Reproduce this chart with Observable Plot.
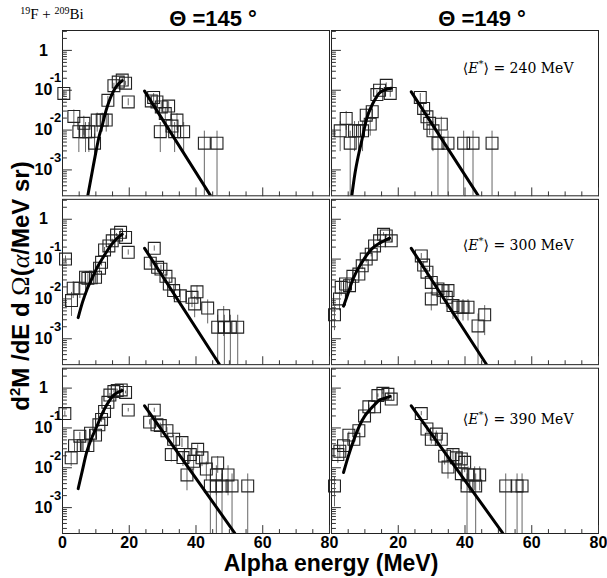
<!DOCTYPE html>
<html><head><meta charset="utf-8">
<script src="https://cdn.jsdelivr.net/npm/d3@7"></script>
<script src="https://cdn.jsdelivr.net/npm/@observablehq/plot@0.6"></script>
<style>body{margin:0;background:#fff;} svg{display:block}</style>
</head><body><div id="chart"></div>
<script>
// ---- categories / axes ----
const angles = ["145", "149"];
const excitations = ["240", "300", "390"];
const xDomain = [0, 80];
const yDomain = [0.000224, 3.16];
const xMajorTicks = [0, 20, 40, 60, 80];
const xMinorTicks = [5, 10, 15, 25, 30, 35, 45, 50, 55, 65, 70, 75];
const xTickLabelsLeft = [0, 20, 40, 60, 80];
const xTickLabelsRight = [20, 40, 60, 80];
const yMajorTicks = [1, 0.1, 0.01, 0.001];
const yTickBase = ["1", "10", "10", "10"];
const yTickExp = ["", "-1", "-2", "-3"];

// ---- measured points: [alpha energy MeV, d2M/dE dΩ, relative error] ----
const pts_145_240 = [
  [0.4,0.083,0.2],[3.4,0.022,0.45],[4.9,0.0091,0.7],[6.4,0.0148,0.5],[6.9,0.0091,0.7],[7.9,0.0091,0.7],
  [9.6,0.0047,0.7],[10.4,0.0178,0.5],[11.9,0.0178,0.5],[13.1,0.0178,0.5],[13.6,0.056,0.25],[15.4,0.13,0.15],
  [16.7,0.16,0.12],[17.9,0.18,0.12],[18.9,0.15,0.12],[19.7,0.051,0.2],
  [26.6,0.054,0.25],[27.3,0.066,0.25],[28.3,0.051,0.3],[29.3,0.0091,0.7],[29.6,0.038,0.3],[30.8,0.026,0.35],
  [31.8,0.040,0.3],[32.8,0.0126,0.5],[33.6,0.0091,0.7],[34.3,0.0178,0.45],[36.3,0.0091,0.7],
  [42.5,0.0047,1],[46.3,0.0047,1]
];
const pts_149_240 = [
  [2.6,0.0096,0.7],[4.4,0.0196,0.5],[5.6,0.0047,1],[6.9,0.0096,0.7],[8.1,0.0096,0.7],[9.3,0.0096,0.7],
  [10.4,0.0237,0.45],[11.6,0.0141,0.5],[12.2,0.029,0.4],[13.6,0.078,0.25],[14.4,0.10,0.2],[16.4,0.133,0.15],
  [17.6,0.083,0.2],
  [26.6,0.066,0.25],[27.6,0.035,0.35],[28.6,0.0215,0.4],[29.4,0.0148,0.5],[30.4,0.0096,0.7],[31.9,0.0047,1],
  [32.9,0.0141,0.5],[34.9,0.0047,1],[39.6,0.0047,1],[42.4,0.0047,1],[48.1,0.0047,1]
];
const pts_145_300 = [
  [0.9,0.10,0.2],[2.7,0.0091,0.6],[3.2,0.0186,0.45],[5.2,0.0186,0.45],[6.9,0.035,0.3],[7.6,0.033,0.3],
  [8.6,0.034,0.3],[9.9,0.035,0.3],[11.1,0.059,0.25],[11.7,0.083,0.2],[12.6,0.17,0.15],[13.9,0.214,0.12],
  [14.9,0.288,0.1],[16.2,0.40,0.1],[17.4,0.47,0.1],[18.9,0.35,0.1],[19.7,0.148,0.15],
  [26.3,0.079,0.2],[27.5,0.186,0.15],[28.5,0.062,0.25],[29.5,0.056,0.25],[31.0,0.037,0.3],[32.0,0.0237,0.35],
  [33.3,0.0162,0.4],[35.3,0.012,0.45],[38.8,0.011,0.45],[39.6,0.0075,0.55],[40.3,0.0151,0.4],[43.5,0.0059,0.6],
  [48.3,0.0038,0.7],[46.5,0.00195,1],[48.5,0.00195,1],[50.3,0.00195,1],[52.5,0.00195,1]
];
const pts_149_300 = [
  [0.9,0.004,0.6],[2.4,0.010,0.5],[2.9,0.0196,0.4],[4.2,0.0237,0.35],[5.4,0.0215,0.35],[6.4,0.037,0.3],
  [8.2,0.042,0.25],[9.2,0.068,0.2],[10.4,0.10,0.2],[11.9,0.133,0.15],[12.9,0.214,0.12],[14.4,0.288,0.1],
  [15.6,0.42,0.1],[16.4,0.38,0.1],[17.9,0.288,0.1],
  [26.9,0.12,0.15],[27.6,0.071,0.2],[28.6,0.047,0.25],[29.9,0.026,0.3],[29.9,0.010,0.5],[31.9,0.0178,0.4],
  [33.4,0.0162,0.4],[34.4,0.011,0.45],[34.9,0.0162,0.4],[36.4,0.0068,0.55],[37.9,0.0062,0.55],
  [39.4,0.0062,0.55],[40.9,0.0062,0.55],[43.9,0.0021,1],[45.9,0.004,0.7]
];
const pts_145_390 = [
  [0.7,0.23,0.15],[2.6,0.0178,0.4],[3.6,0.036,0.3],[5.2,0.062,0.25],[6.2,0.036,0.3],[7.6,0.036,0.3],
  [8.4,0.074,0.2],[9.9,0.066,0.2],[10.9,0.12,0.15],[11.7,0.163,0.15],[12.6,0.26,0.12],[13.6,0.44,0.1],
  [14.2,0.67,0.1],[15.4,0.82,0.08],[16.4,0.87,0.08],[17.6,0.90,0.08],[18.9,0.78,0.08],[19.7,0.28,0.1],
  [26.1,0.14,0.15],[27.5,0.28,0.12],[28.3,0.12,0.15],[29.3,0.115,0.15],[31.3,0.085,0.2],[32.6,0.0215,0.35],
  [33.3,0.052,0.25],[35.8,0.043,0.25],[36.1,0.018,0.4],[37.3,0.0066,0.6],[38.3,0.0215,0.35],[39.3,0.0145,0.4],
  [40.5,0.029,0.3],[41.8,0.0178,0.4],[43.1,0.0093,0.5],[44.3,0.0035,1],[46.1,0.0035,1],[46.1,0.0066,0.7],
  [46.5,0.0132,0.45],[47.8,0.0035,1],[49.6,0.0066,0.7],[50.8,0.0035,1],[55.5,0.0035,1]
];
const pts_149_390 = [
  [0.9,0.0035,0.7],[1.9,0.0215,0.4],[2.5,0.026,0.35],[3.6,0.036,0.3],[5.2,0.066,0.2],[6.7,0.052,0.25],
  [8.2,0.085,0.2],[9.9,0.20,0.15],[11.2,0.34,0.12],[12.9,0.34,0.12],[13.9,0.65,0.1],[15.4,0.74,0.08],
  [16.9,0.70,0.08],[17.9,0.53,0.08],
  [26.9,0.23,0.12],[28.6,0.094,0.2],[29.9,0.052,0.25],[31.4,0.070,0.2],[32.9,0.052,0.25],[33.9,0.0196,0.4],
  [34.9,0.0104,0.5],[36.4,0.0215,0.35],[37.4,0.0178,0.4],[38.9,0.0167,0.4],[38.9,0.0071,0.6],[39.9,0.0137,0.45],
  [40.6,0.0035,1],[40.9,0.0066,0.6],[42.9,0.0066,0.6],[43.2,0.0035,1],[44.4,0.0066,0.6],
  [52.2,0.0035,1],[55.6,0.0035,1],[57.1,0.0035,1]
];

// ---- fitted curves: [E, value] ----
const fitLow_145_240 = [[7.6,0.00023],[9.0,0.0010],[10.0,0.0028],[11.0,0.0071],[12.0,0.0141],[13.0,0.030],[14.0,0.054],[15.0,0.085],[16.0,0.120],[17.0,0.151],[17.9,0.174]];
const fitHigh_145_240 = [[24.6,0.095],[44.3,0.00023]];
const fitLow_149_240 = [[6.1,0.00023],[7.0,0.00079],[8.0,0.0022],[8.9,0.0047],[10.0,0.0126],[10.7,0.0214],[12.0,0.040],[12.9,0.056],[14.2,0.083],[16.0,0.102],[17.9,0.112]];
const fitHigh_149_240 = [[23.9,0.091],[43.9,0.00023]];
const fitLow_145_300 = [[4.7,0.0034],[6.0,0.0083],[7.4,0.0178],[9.0,0.035],[10.4,0.062],[12.0,0.105],[13.4,0.162],[15.0,0.25],[16.5,0.34],[17.9,0.42]];
const fitHigh_145_300 = [[24.6,0.186],[47.0,0.00023]];
const fitLow_149_300 = [[3.6,0.0066],[5.0,0.0141],[6.0,0.025],[7.4,0.047],[8.5,0.068],[9.5,0.093],[10.4,0.12],[12.0,0.178],[13.9,0.237],[15.5,0.28],[17.4,0.335]];
const fitHigh_149_300 = [[23.9,0.186],[46.4,0.00023]];
const fitLow_145_390 = [[4.7,0.0030],[6.0,0.0089],[7.2,0.024],[8.5,0.050],[10.4,0.115],[12.0,0.24],[13.2,0.37],[15.4,0.68],[16.7,0.79],[17.9,0.87]];
const fitHigh_145_390 = [[24.6,0.36],[51.6,0.00023]];
const fitLow_149_390 = [[3.6,0.0076],[5.0,0.019],[6.4,0.043],[8.4,0.115],[10.0,0.20],[11.9,0.31],[14.4,0.50],[16.0,0.56],[17.6,0.62]];
const fitHigh_149_390 = [[23.9,0.36],[51.3,0.00023]];

const annotations = ["⟨E*⟩ = 240 MeV", "⟨E*⟩ = 300 MeV", "⟨E*⟩ = 390 MeV"];
const angleTitles = ["Θ =145 °", "Θ =149 °"];

// ---- build tables ----
const panels = [
  ["145","240",pts_145_240,fitLow_145_240,fitHigh_145_240],
  ["149","240",pts_149_240,fitLow_149_240,fitHigh_149_240],
  ["145","300",pts_145_300,fitLow_145_300,fitHigh_145_300],
  ["149","300",pts_149_300,fitLow_149_300,fitHigh_149_300],
  ["145","390",pts_145_390,fitLow_145_390,fitHigh_145_390],
  ["149","390",pts_149_390,fitLow_149_390,fitHigh_149_390]
];
const points = panels.flatMap(([angle, ex, pts]) => pts.map(([E, v, f]) => ({angle, ex, E, v, lo: Math.max(v * (1 - f), 1e-6), hi: v * (1 + f)})));
const fits = panels.flatMap(([angle, ex, , low, high]) => [
  ...low.map(([E, v]) => ({angle, ex, E, v, seg: "low"})),
  ...high.map(([E, v]) => ({angle, ex, E, v, seg: "high"}))
]);
const yMinorTicks = d3.scaleLog().domain(yDomain).ticks().filter(t => !yMajorTicks.includes(t));
const yLabels = excitations.flatMap(ex => yMajorTicks.map((v, i) => ({angle: "145", ex, v, base: yTickBase[i], exp: yTickExp[i]})));
const xLabels = [
  ...xTickLabelsLeft.map(E => ({angle: "145", ex: "390", E})),
  ...xTickLabelsRight.map(E => ({angle: "149", ex: "390", E}))
];
const titles = angles.map((angle, i) => ({angle, ex: "240", label: angleTitles[i]}));
const annot = excitations.map((ex, i) => ({angle: "149", ex, label: annotations[i]}));

const sans = "Liberation Sans, Arial, Helvetica, sans-serif";
const fac = {fx: "angle", fy: "ex"};
const tickShape = {draw(context, l) { context.moveTo(0, 0); context.lineTo(0, -l); }};

const svg = Plot.plot({
  width: 607, height: 578,
  marginLeft: 62, marginRight: 9, marginTop: 30, marginBottom: 45,
  style: {fontFamily: sans, background: "white", color: "black"},
  x: {domain: xDomain, axis: null},
  y: {type: "log", domain: yDomain, axis: null},
  fx: {domain: angles, axis: null, paddingInner: 0.0075, paddingOuter: 0, round: false},
  fy: {domain: excitations, axis: null, paddingInner: 0.021, paddingOuter: 0, round: false},
  marks: [
    Plot.frame({stroke: "#222", strokeWidth: 1}),
    Plot.vector(xMinorTicks, {x: d => d, frameAnchor: "bottom", length: 4, rotate: 0, anchor: "start", shape: tickShape, stroke: "#333", strokeWidth: 1}),
    Plot.vector(xMajorTicks, {x: d => d, frameAnchor: "bottom", length: 8, rotate: 0, anchor: "start", shape: tickShape, stroke: "#333", strokeWidth: 1}),
    Plot.vector(yMinorTicks, {y: d => d, frameAnchor: "left", length: 4, rotate: 90, anchor: "start", shape: tickShape, stroke: "#333", strokeWidth: 1}),
    Plot.vector(yMajorTicks, {y: d => d, frameAnchor: "left", length: 9, rotate: 90, anchor: "start", shape: tickShape, stroke: "#333", strokeWidth: 1}),
    Plot.ruleX(points, {...fac, x: "E", y1: "lo", y2: "hi", stroke: "#555", strokeWidth: 0.9, clip: true}),
    Plot.dot(points, {...fac, x: "E", y: "v", symbol: "square", r: 6.7, stroke: "#222", strokeWidth: 1.1, fill: "none"}),
    Plot.line(fits, {...fac, x: "E", y: "v", z: "seg", stroke: "black", strokeWidth: 3, curve: "monotone-x", clip: true}),
    Plot.text(xLabels, {...fac, x: "E", text: d => String(d.E), frameAnchor: "bottom", dy: 14, fontSize: 16, fontWeight: "bold", fill: "black"}),
    Plot.text(yLabels, {...fac, y: "v", text: "base", frameAnchor: "left", dx: -19, textAnchor: "middle", fontSize: 16, fontWeight: "bold", fill: "black"}),
    Plot.text(yLabels, {...fac, y: "v", text: "exp", frameAnchor: "left", dx: -7, dy: -12, textAnchor: "middle", fontSize: 13, fontWeight: "bold", fill: "black"}),
    Plot.text(titles, {...fac, text: "label", frameAnchor: "top", dx: 17, dy: -20, fontSize: 22, fontWeight: "bold", fill: "black"}),
    Plot.text(annot.filter(d => d.ex === "240"), {...fac, text: "label", frameAnchor: "top-right", dx: -25, dy: 33, textAnchor: "end", fontSize: 14, fontFamily: "DejaVu Serif, serif", fill: "black"}),
    Plot.text(annot.filter(d => d.ex === "300"), {...fac, text: "label", frameAnchor: "top-right", dx: -25, dy: 41, textAnchor: "end", fontSize: 14, fontFamily: "DejaVu Serif, serif", fill: "black"}),
    Plot.text(annot.filter(d => d.ex === "390"), {...fac, text: "label", frameAnchor: "top-right", dx: -25, dy: 46, textAnchor: "end", fontSize: 14, fontFamily: "DejaVu Serif, serif", fill: "black"})
  ]
});
document.getElementById("chart").append(svg);

const s = d3.select(svg);
// annotation styling: italic E and superscript star
s.selectAll("text").filter(function () { return this.textContent.startsWith("⟨E*⟩"); }).each(function () {
  const rest = this.textContent.slice(4);
  const el = d3.select(this).text("");
  el.append("tspan").text("⟨");
  el.append("tspan").attr("font-style", "italic").text("E");
  el.append("tspan").attr("font-size", 10).attr("dy", -6).text("*");
  el.append("tspan").attr("dy", 6).text("⟩");
  el.append("tspan").text(rest);
});
// reaction label
const t = s.append("text").attr("x", 52).attr("y", 19).attr("font-family", "Liberation Serif, Times New Roman, serif").attr("font-size", 15).attr("fill", "black");
t.append("tspan").attr("font-size", 10).attr("dy", -5).text("19");
t.append("tspan").attr("dy", 5).text("F + ");
t.append("tspan").attr("font-size", 10).attr("dy", -5).text("209");
t.append("tspan").attr("dy", 5).text("Bi");
// y-axis title
const yl = s.append("text").attr("transform", "translate(29,286) rotate(-90)").attr("text-anchor", "middle")
  .attr("font-family", sans).attr("font-weight", "bold").attr("font-size", 24).attr("fill", "black");
yl.append("tspan").text("d");
yl.append("tspan").attr("font-size", 15).attr("dy", -9).text("2");
yl.append("tspan").attr("dy", 9).text("M /dE d ");
yl.append("tspan").attr("font-family", "Liberation Serif, serif").attr("font-weight", "normal").attr("font-size", 26).text("Ω");
yl.append("tspan").text("(");
yl.append("tspan").attr("font-family", "Liberation Serif, serif").attr("font-weight", "normal").attr("font-style", "italic").attr("font-size", 26).text("α");
yl.append("tspan").text("/MeV sr)");
// x-axis title
s.append("text").attr("x", 331).attr("y", 571).attr("text-anchor", "middle")
  .attr("font-family", sans).attr("font-weight", "bold").attr("font-size", 23).attr("fill", "black")
  .text("Alpha energy (MeV)");
</script>
</body></html>
